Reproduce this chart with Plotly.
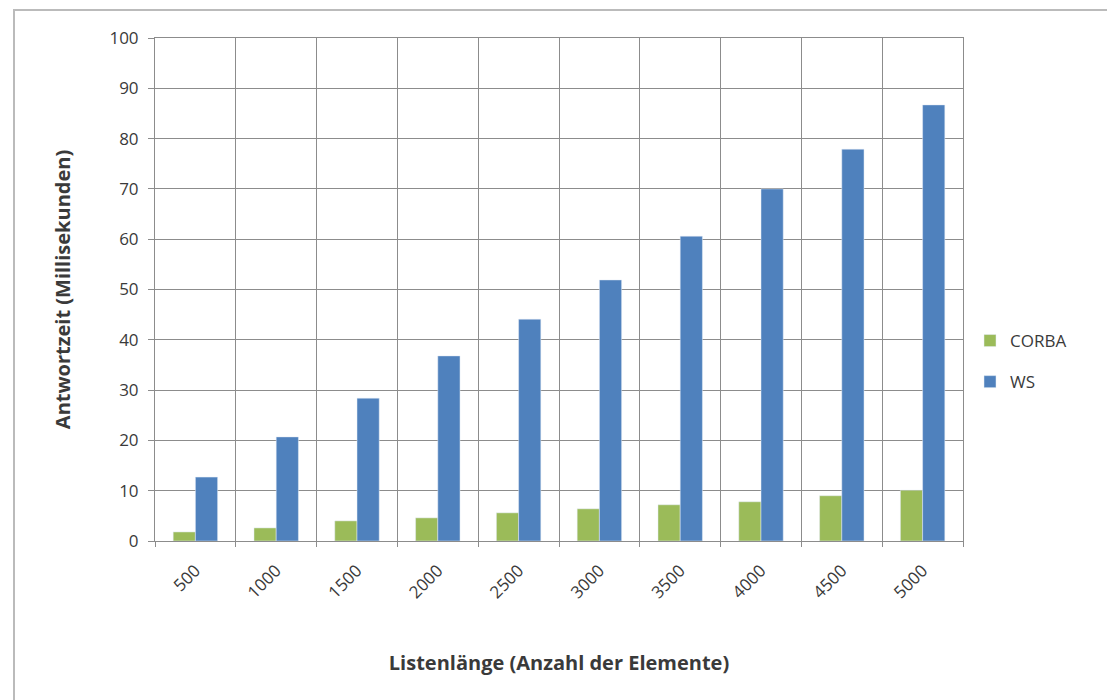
import plotly.graph_objects as go

categories = ["500", "1000", "1500", "2000", "2500", "3000", "3500", "4000", "4500", "5000"]
corba = [1.8, 2.6, 4.0, 4.6, 5.6, 6.4, 7.2, 7.8, 9.0, 10.1]
ws = [12.7, 20.7, 28.4, 36.8, 44.1, 51.9, 60.6, 70.0, 77.9, 86.7]

font_family = "Open Sans, Liberation Sans, sans-serif"
txt = "#3A3A3A"

fig = go.Figure()
fig.add_trace(go.Bar(x=categories, y=corba, name="CORBA", marker_color="#9BBB59",
                     legendgroup="a"))
fig.add_trace(go.Bar(x=categories, y=ws, name="WS", marker_color="#4F81BD",
                     legendgroup="b"))

L, R, T, B = 155, 963, 38, 541
W, H = 1107, 700

def px_x(px):
    return (px - L) / (R - L)

def px_y(py):
    return (B - py) / (B - T)

fig.update_layout(
    width=W, height=H,
    margin=dict(l=L, r=W - R, t=T, b=H - B),
    paper_bgcolor="white", plot_bgcolor="white",
    barmode="group", bargap=0.45, bargroupgap=0.0,
    font=dict(family=font_family, size=16, color=txt),
    legend=dict(x=px_x(970), y=px_y(323), xanchor="left", yanchor="top",
                tracegroupgap=16, font=dict(size=17, color=txt)),
    showlegend=True,
    shapes=[dict(type="rect", xref="paper", yref="paper",
                 x0=px_x(14), y0=px_y(760), x1=px_x(1150), y1=px_y(10),
                 line=dict(color="#BBBBBB", width=2), layer="below")],
)

fig.update_xaxes(
    type="category", tickangle=-45, tickson="boundaries",
    showgrid=True, gridcolor="#8C8C8C", gridwidth=1,
    showline=True, linecolor="#8C8C8C", linewidth=1, mirror=True,
    ticks="outside", ticklen=5, tickcolor="#8C8C8C",
    ticklabelstandoff=12,
    tickfont=dict(size=17, color=txt),
    title=dict(text="<b>Listenlänge (Anzahl der Elemente)</b>", font=dict(size=20, color=txt),
               standoff=54),
)
fig.update_yaxes(
    range=[0, 100], dtick=10,
    showgrid=True, gridcolor="#8C8C8C", gridwidth=1,
    showline=True, linecolor="#8C8C8C", linewidth=1, mirror=True,
    ticks="outside", ticklen=6, tickcolor="#8C8C8C",
    ticklabelstandoff=6,
    tickfont=dict(size=17, color=txt),
    zeroline=False,
    title=dict(text="<b>Antwortzeit (Millisekunden)</b>", font=dict(size=20, color=txt),
               standoff=33),
)

fig.write_html("out.html")
